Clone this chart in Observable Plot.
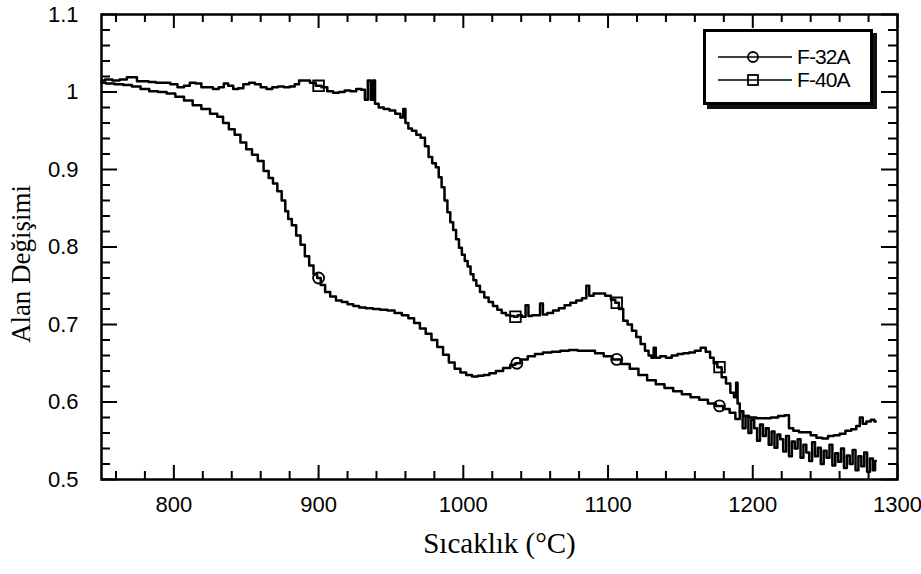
<!DOCTYPE html>
<html>
<head>
<meta charset="utf-8">
<script src="https://cdn.jsdelivr.net/npm/d3@7"></script>
<script src="https://cdn.jsdelivr.net/npm/@observablehq/plot@0.6"></script>
<style>
  html, body { margin: 0; padding: 0; background: #fff; }
  #chart { position: relative; width: 921px; height: 574px; }
  #chart > svg { position: absolute; left: 0; top: 0; }
  .legend {
    position: absolute; left: 703px; top: 29px; width: 170px; height: 76px;
    box-sizing: border-box; border: 3px solid #000; box-shadow: 4px 4px 0 #111;
    background: #fff;
  }
  .legend svg { position: absolute; left: 0; top: 0; }
  .legend text { font-family: "Liberation Sans", Arial, sans-serif; font-size: 21px; letter-spacing: -0.9px; }
</style>
</head>
<body>
<div id="chart"></div>
<script>
// Sample F-32A: temperature (°C) and relative area change
const temps32 = [
  750, 756, 762, 768, 774, 780, 786, 792, 798, 804, 810, 816, 822, 828, 832, 836, 840, 844, 848, 852,
  856, 860, 864, 867, 870, 873, 876, 878, 880, 883, 886, 889, 892, 895, 898, 900, 903, 906, 910, 914,
  918, 922, 926, 930, 935, 940, 945, 950, 955, 960, 964, 968, 972, 976, 980, 984, 988, 992, 996, 1000,
  1004, 1008, 1012, 1016, 1020, 1025, 1030, 1035, 1037, 1042, 1047, 1052, 1058, 1064, 1070, 1076, 1082, 1088, 1094, 1100,
  1106, 1112, 1118, 1124, 1130, 1136, 1142, 1148, 1154, 1160, 1166, 1172, 1177, 1182, 1186,
  1190, 1192, 1194, 1196, 1198, 1200, 1202, 1204, 1206, 1208, 1210, 1212, 1214, 1216, 1218, 1220, 1222, 1224, 1226, 1228,
  1230, 1232, 1234, 1236, 1238, 1240, 1242, 1244, 1246, 1248, 1250, 1252, 1254, 1256, 1258, 1260, 1262, 1264, 1266, 1268,
  1270, 1272, 1274, 1276, 1278, 1280, 1282, 1284, 1285
];
const area32 = [
  1.012, 1.011, 1.010, 1.009, 1.007, 1.004, 1.001, 1.000, 0.998, 0.994, 0.989, 0.983, 0.978, 0.972, 0.968, 0.960, 0.952, 0.945, 0.935, 0.926,
  0.919, 0.911, 0.898, 0.889, 0.882, 0.872, 0.860, 0.846, 0.836, 0.828, 0.815, 0.803, 0.788, 0.776, 0.765, 0.760, 0.751, 0.742, 0.736, 0.731,
  0.729, 0.726, 0.724, 0.722, 0.721, 0.720, 0.719, 0.718, 0.715, 0.712, 0.708, 0.702, 0.695, 0.688, 0.680, 0.671, 0.661, 0.651, 0.643, 0.638,
  0.635, 0.633, 0.634, 0.635, 0.637, 0.640, 0.644, 0.648, 0.650, 0.655, 0.659, 0.662, 0.664, 0.665, 0.666, 0.667, 0.666, 0.666, 0.663, 0.659,
  0.655, 0.649, 0.643, 0.635, 0.628, 0.623, 0.618, 0.614, 0.610, 0.606, 0.603, 0.598, 0.595, 0.591, 0.586,
  0.578, 0.588, 0.566, 0.582, 0.560, 0.577, 0.566, 0.550, 0.571, 0.556, 0.566, 0.545, 0.562, 0.541, 0.558, 0.552, 0.536, 0.556, 0.530, 0.549,
  0.540, 0.552, 0.528, 0.545, 0.535, 0.524, 0.548, 0.530, 0.541, 0.520, 0.537, 0.528, 0.545, 0.518, 0.534, 0.523, 0.540, 0.515, 0.531, 0.520,
  0.538, 0.512, 0.530, 0.517, 0.535, 0.510, 0.527, 0.512, 0.524
];

// Sample F-40A
const temps40 = [
  750, 755, 760, 765, 770, 773, 776, 780, 785, 790, 795, 800, 805, 809, 813, 817, 821, 825, 829, 833,
  836, 839, 843, 846, 850, 854, 858, 862, 866, 870, 874, 878, 882, 885, 888, 892, 896, 900, 904, 908,
  912, 916, 920, 924, 928, 931, 933, 935, 937, 938, 940, 943, 947, 951, 955, 958, 959, 961, 963, 966,
  969, 972, 975, 977, 980, 982, 984, 986, 988, 990, 992, 994, 996, 998, 1000, 1002, 1004, 1006, 1008, 1010,
  1013, 1016, 1019, 1022, 1025, 1028, 1031, 1034, 1036, 1039, 1042, 1044, 1046, 1049, 1052, 1054, 1056, 1060, 1064, 1068,
  1072, 1076, 1080, 1084, 1086, 1088, 1092, 1096, 1100, 1104, 1106, 1109, 1112, 1115, 1118, 1121, 1124, 1127, 1129, 1131,
  1132, 1134, 1138, 1142, 1146, 1150, 1154, 1158, 1162, 1166, 1169, 1172, 1174, 1177, 1180, 1183, 1186, 1188, 1189, 1190,
  1192, 1195, 1200, 1205, 1210, 1215, 1220, 1224, 1226, 1230, 1234, 1238, 1242, 1246, 1250, 1254, 1258, 1262, 1266, 1270,
  1273, 1275, 1277, 1280, 1283, 1285
];
const area40 = [
  1.015, 1.016, 1.015, 1.016, 1.019, 1.019, 1.014, 1.014, 1.013, 1.012, 1.012, 1.010, 1.006, 1.008, 1.012, 1.011, 1.006, 1.006, 1.004, 1.006,
  1.011, 1.008, 1.004, 1.005, 1.010, 1.012, 1.010, 1.006, 1.004, 1.006, 1.007, 1.006, 1.007, 1.010, 1.015, 1.015, 1.012, 1.008, 1.006, 1.001,
  0.999, 1.000, 1.002, 1.001, 1.004, 1.003, 0.990, 1.015, 0.990, 1.015, 0.985, 0.980, 0.978, 0.976, 0.972, 0.967, 0.978, 0.960, 0.953, 0.950,
  0.945, 0.941, 0.930, 0.916, 0.908, 0.903, 0.890, 0.877, 0.860, 0.845, 0.832, 0.822, 0.810, 0.799, 0.790, 0.782, 0.775, 0.765, 0.757, 0.750,
  0.742, 0.735, 0.729, 0.724, 0.719, 0.715, 0.712, 0.711, 0.710, 0.712, 0.710, 0.725, 0.711, 0.712, 0.712, 0.727, 0.713, 0.715, 0.718, 0.721,
  0.725, 0.728, 0.731, 0.734, 0.750, 0.737, 0.740, 0.740, 0.737, 0.732, 0.728, 0.720, 0.705, 0.700, 0.692, 0.684, 0.675, 0.666, 0.660, 0.657,
  0.670, 0.657, 0.659, 0.657, 0.660, 0.662, 0.663, 0.664, 0.666, 0.670, 0.665, 0.657, 0.650, 0.645, 0.632, 0.624, 0.612, 0.606, 0.625, 0.598,
  0.588, 0.582, 0.580, 0.579, 0.579, 0.580, 0.582, 0.583, 0.566, 0.563, 0.561, 0.561, 0.557, 0.554, 0.553, 0.556, 0.557, 0.559, 0.563, 0.565,
  0.569, 0.580, 0.572, 0.575, 0.577, 0.575
];

// Temperatures carrying a symbol on each curve
const markers32 = [900, 1037, 1106, 1177];
const markers40 = [900, 1036, 1106, 1177];

// Axis ticks and labels
const xMajor = [800, 900, 1000, 1100, 1200, 1300];
const xMinor = [760, 780, 820, 840, 860, 880, 920, 940, 960, 980, 1020, 1040, 1060, 1080,
                1120, 1140, 1160, 1180, 1220, 1240, 1260, 1280];
const yMajor = [0.5, 0.6, 0.7, 0.8, 0.9, 1, 1.1];
const yMinor = [0.52, 0.54, 0.56, 0.58, 0.62, 0.64, 0.66, 0.68, 0.72, 0.74, 0.76, 0.78,
                0.82, 0.84, 0.86, 0.88, 0.92, 0.94, 0.96, 0.98, 1.02, 1.04, 1.06, 1.08];
const xTitle = "Sıcaklık (°C)";
const yTitle = "Alan Değişimi";
const seriesNames = ["F-32A", "F-40A"];

const rows = (ts, as) => ts.map((t, i) => ({t, a: as[i]}));
const s32 = rows(temps32, area32);
const s40 = rows(temps40, area40);
const pickNearest = (series, ts) => ts.map(t => series.reduce((b, d) => Math.abs(d.t - t) < Math.abs(b.t - t) ? d : b));

const serif = "'Liberation Serif', 'Times New Roman', serif";
const sans = "'Liberation Sans', Arial, sans-serif";

// shared frame geometry and scales
const W = 921, H = 574;
const frame = {width: W, height: H, marginLeft: 101, marginRight: 24, marginTop: 14, marginBottom: 95};
const innerW = W - frame.marginLeft - frame.marginRight;
const innerH = H - frame.marginTop - frame.marginBottom;
const scales = {
  x: {domain: [750, 1300], axis: null, label: null},
  y: {domain: [0.5, 1.1], axis: null, label: null}
};

// main chart: frame, tick labels, curves, symbols and titles
const chart = Plot.plot({
  ...frame, ...scales,
  style: {fontFamily: sans, fontSize: "22px", color: "#000", background: "#fff", overflow: "visible"},
  marks: [
    Plot.frame({stroke: "#000", strokeWidth: 2.5}),
    Plot.axisX(xMajor, {anchor: "bottom", tickSize: 0, tickPadding: 17, label: null, fontSize: 22, tickFormat: d => String(d)}),
    Plot.axisY(yMajor, {anchor: "left", tickSize: 0, tickPadding: 23, label: null, fontSize: 22, tickFormat: d => String(d)}),
    Plot.line(s32, {x: "t", y: "a", stroke: "#000", strokeWidth: 2.5, curve: "step"}),
    Plot.line(s40, {x: "t", y: "a", stroke: "#000", strokeWidth: 2.5, curve: "step"}),
    Plot.dot(pickNearest(s32, markers32), {x: "t", y: "a", symbol: "circle", r: 5.5, stroke: "#000", strokeWidth: 1.8, fill: "none"}),
    Plot.dot(pickNearest(s40, markers40), {x: "t", y: "a", symbol: "square", r: 6, stroke: "#000", strokeWidth: 1.8, fill: "none"}),
    Plot.text([xTitle], {frameAnchor: "bottom", dy: 73, textAnchor: "middle", fontFamily: serif, fontSize: 29, fill: "#000"}),
    Plot.text([yTitle], {frameAnchor: "left", dx: -80, dy: 17, textAnchor: "middle", rotate: -90, fontFamily: serif, fontSize: 27, fill: "#000"})
  ]
});

// inward tick stubs on all four sides, as rules inset down to a short length
const ticksX = (values, side, len) => side === "bottom"
  ? Plot.ruleX(values, {x: d => d, stroke: "#000", strokeWidth: 2, insetTop: innerH - len})
  : Plot.ruleX(values, {x: d => d, stroke: "#000", strokeWidth: 2, insetBottom: innerH - len});
const ticksY = (values, side, len) => side === "left"
  ? Plot.ruleY(values, {y: d => d, stroke: "#000", strokeWidth: 2, insetRight: innerW - len})
  : Plot.ruleY(values, {y: d => d, stroke: "#000", strokeWidth: 2, insetLeft: innerW - len});

const tickLayer = Plot.plot({
  ...frame, ...scales,
  style: {background: "transparent", overflow: "visible"},
  marks: [
    ticksX(xMajor, "bottom", 14), ticksX(xMinor, "bottom", 8),
    ticksX(xMajor, "top", 14), ticksX(xMinor, "top", 8),
    ticksY(yMajor, "left", 16), ticksY(yMinor, "left", 9),
    ticksY(yMajor, "right", 16), ticksY(yMinor, "right", 9)
  ]
});

const root = document.getElementById("chart");
root.appendChild(chart);
root.appendChild(tickLayer);

// legend box with line-and-symbol keys
const legendBox = document.createElement("div");
legendBox.className = "legend";
legendBox.innerHTML = `
<svg width="164" height="70">
  <line x1="12" x2="86" y1="25" y2="25" stroke="#000" stroke-width="1.6"/>
  <circle cx="47" cy="25" r="5" fill="none" stroke="#000" stroke-width="1.8"/>
  <text x="91" y="25" dy="0.35em">${seriesNames[0]}</text>
  <line x1="12" x2="86" y1="48" y2="48" stroke="#000" stroke-width="1.6"/>
  <rect x="42" y="43" width="10" height="10" fill="none" stroke="#000" stroke-width="1.8"/>
  <text x="91" y="48" dy="0.35em">${seriesNames[1]}</text>
</svg>`;
root.appendChild(legendBox);
</script>
</body>
</html>
